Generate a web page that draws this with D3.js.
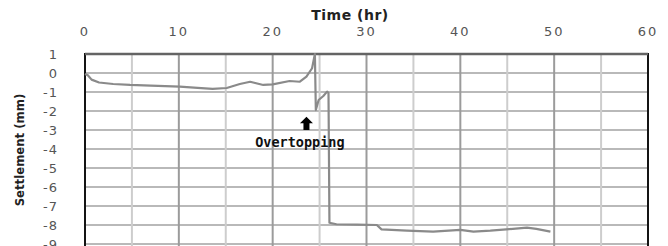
<!DOCTYPE html>
<html>
<head>
<meta charset="utf-8">
<script src="https://cdn.jsdelivr.net/npm/d3@7"></script>
<style>
  html, body { margin: 0; padding: 0; background: #fff; overflow: hidden; }
  svg { display: block; }
</style>
</head>
<body>
<svg id="chart"></svg>
<script>
// Settlement record (time in hr, settlement in mm)
const timeHr = [0, 0.3, 0.7, 1.5, 3, 4.8, 7, 10.1, 12, 13.6, 15.1, 16.5, 17.6, 19.0, 20.0, 21.8, 22.9, 23.6, 24.2, 24.5,
  24.6, 24.9, 25.4, 25.8, 25.95, 26.05, 26.8, 29, 31.1, 31.6, 34.3, 37.1, 40.0, 41.4, 43.2, 44.9, 47.1, 48.1, 49.6];
const settlement = [-0.05, -0.12, -0.35, -0.5, -0.58, -0.63, -0.66, -0.72, -0.78, -0.84, -0.79, -0.58, -0.46, -0.63, -0.6, -0.42, -0.46, -0.19, 0.25, 1.0,
  -1.95, -1.42, -1.21, -0.98, -1.05, -7.88, -7.96, -7.98, -8.0, -8.23, -8.3, -8.35, -8.26, -8.35, -8.3, -8.23, -8.14, -8.2, -8.35];

const xTicks = [0, 10, 20, 30, 40, 50, 60];
const yTicks = [1, 0, -1, -2, -3, -4, -5, -6, -7, -8, -9];
const xGrid = [5, 10, 15, 20, 25, 30, 35, 40, 45, 50, 55];
const yGrid = [0, -1, -2, -3, -4, -5, -6, -7, -8, -9, -10];

const width = 668, height = 246;

const svg = d3.select("#chart")
    .attr("width", width)
    .attr("height", height);

const x = d3.scaleLinear().domain([0, 60]).range([85, 648]);
const y = d3.scaleLinear().domain([1, -10]).range([54, 263]);

// Top x axis labels
svg.selectAll("text.xt")
    .data(xTicks)
    .join("text")
    .attr("class", "xt")
    .attr("x", d => x(d))
    .attr("y", 36)
    .attr("text-anchor", "middle")
    .style("font-family", "DejaVu Sans, Verdana, sans-serif")
    .style("font-size", "13px")
    .style("letter-spacing", "2px")
    .style("fill", "#555")
    .text(d => d);

svg.append("text")
    .attr("x", 350)
    .attr("y", 20)
    .attr("text-anchor", "middle")
    .style("font-family", "DejaVu Sans, sans-serif")
    .style("font-weight", "bold")
    .style("font-size", "14px")
    .style("letter-spacing", "0.5px")
    .style("fill", "#222")
    .text("Time (hr)");

// Left y axis labels
svg.selectAll("text.yt")
    .data(yTicks)
    .join("text")
    .attr("class", "yt")
    .attr("x", 58)
    .attr("y", d => y(d))
    .attr("dy", "0.36em")
    .attr("text-anchor", "end")
    .style("font-family", "DejaVu Sans, Verdana, sans-serif")
    .style("font-size", "13px")
    .style("letter-spacing", "1px")
    .style("fill", "#555")
    .text(d => d);

svg.append("text")
    .attr("transform", "translate(24,150) rotate(-90)")
    .attr("text-anchor", "middle")
    .style("font-family", "DejaVu Sans Condensed, DejaVu Sans, sans-serif")
    .style("font-stretch", "condensed")
    .style("font-weight", "bold")
    .style("font-size", "13px")
    .style("fill", "#222")
    .text("Settlement (mm)");

// Grid and frame
const grid = svg.append("g");
grid.selectAll("path.h")
    .data(yGrid)
    .join("path")
    .attr("class", "h")
    .attr("d", d => `M${x(0)},${y(d)}H${x(60)}`)
    .attr("fill", "none")
    .attr("stroke", "rgb(185,185,185)")
    .attr("stroke-width", 2);

grid.selectAll("path.v")
    .data(xGrid)
    .join("path")
    .attr("class", "v")
    .attr("d", d => `M${x(d)},${y(1)}V${y(-10)}`)
    .attr("fill", "none")
    .attr("stroke", d => d % 10 === 0 ? "rgb(155,155,155)" : "rgb(205,205,205)")
    .attr("stroke-width", 2);

grid.append("rect")
    .attr("x", x(0)).attr("y", y(1))
    .attr("width", x(60) - x(0)).attr("height", y(-10) - y(1))
    .attr("fill", "none")
    .attr("stroke", "rgb(20,20,20)")
    .attr("stroke-width", 2);
grid.append("path")
    .attr("d", `M${x(0)},${y(1)}H${x(60)}`)
    .attr("fill", "none")
    .attr("stroke", "rgb(100,100,100)")
    .attr("stroke-width", 2.5);

// Data line
const lineGen = d3.line()
    .x((d, i) => x(timeHr[i]))
    .y(d => y(d));

svg.append("path")
    .datum(settlement)
    .attr("d", lineGen)
    .attr("fill", "none")
    .attr("stroke", "rgb(138,138,138)")
    .attr("stroke-width", 2.2)
    .attr("stroke-linejoin", "round");

// Overtopping annotation
const ax = x(23.6), aTop = y(-2.3), aBot = y(-3.0);
svg.append("path")
    .attr("d", `M${ax},${aTop} L${ax + 6.5},${aTop + 6.5} L${ax + 3},${aTop + 6.5} L${ax + 3},${aBot} L${ax - 3},${aBot} L${ax - 3},${aTop + 6.5} L${ax - 6.5},${aTop + 6.5} Z`)
    .attr("fill", "#000");

svg.append("text")
    .attr("x", x(22.9))
    .attr("y", y(-3.63))
    .attr("dy", "0.35em")
    .attr("text-anchor", "middle")
    .style("font-family", "DejaVu Sans Mono, monospace")
    .style("font-weight", "bold")
    .style("font-size", "13.5px")
    .style("fill", "#111")
    .text("Overtopping");
</script>
</body>
</html>
